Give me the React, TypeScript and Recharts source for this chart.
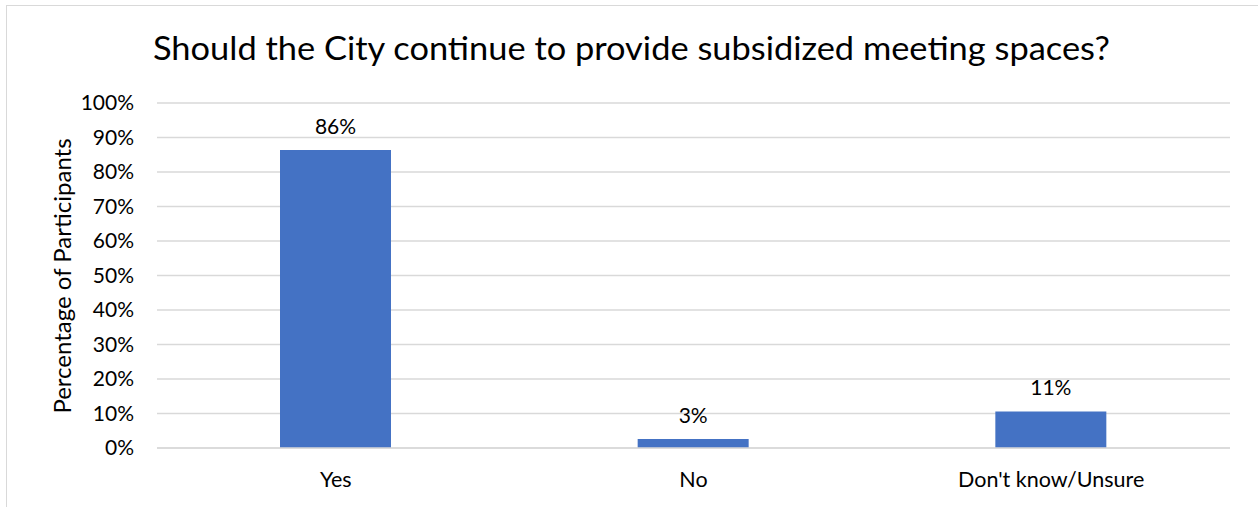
import React from "react";
import { BarChart, Bar, XAxis, YAxis, CartesianGrid, LabelList } from "recharts";

const categories = ["Yes", "No", "Don't know/Unsure"];
const values = [86.4, 2.6, 10.6];
const valueLabels = ["86%", "3%", "11%"];
const yTicks = [0, 10, 20, 30, 40, 50, 60, 70, 80, 90, 100];
const title = "Should the City continue to provide subsidized meeting spaces?";
const yAxisTitle = "Percentage of Participants";

const data = categories.map((c, i) => ({ name: c, value: values[i], label: valueLabels[i] }));

const FONT = "Lato, 'Open Sans', sans-serif";

export default function App() {
  return (
    <div style={{ position: "absolute", left: 0, top: 0, width: 1258, height: 507, background: "#fff", fontFamily: FONT }}>
      <svg width={1258} height={507} style={{ position: "absolute", left: 0, top: 0 }}>
        <line x1={6.5} y1={5} x2={6.5} y2={507} stroke="#d9d9d9" strokeWidth={1} />
        <line x1={6} y1={5.5} x2={1258} y2={5.5} stroke="#d9d9d9" strokeWidth={1} />
        <text x={631.5} y={59.5} textAnchor="middle" fontSize={32} fill="#000" fontFamily={FONT}
          textLength={957} lengthAdjust="spacingAndGlyphs">{title}</text>
        <text x={0} y={0} transform="translate(71,276) rotate(-90)" textAnchor="middle" fontSize={24} fill="#000" fontFamily={FONT}>{yAxisTitle}</text>
      </svg>
      <div style={{ position: "absolute", left: 0, top: 0 }}>
        <BarChart width={1258} height={507} data={data} margin={{ top: 103, right: 28, bottom: 0, left: 0 }}>
          <CartesianGrid vertical={false} stroke="#d9d9d9" strokeWidth={1.3} />
          <XAxis dataKey="name" height={59} axisLine={{ stroke: "#d9d9d9", strokeWidth: 1.3 }} tickLine={false} tickSize={0} tickMargin={24}
            tick={{ fill: "#000", fontSize: 21.5, fontFamily: FONT }} interval={0} />
          <YAxis width={157} domain={[0, 100]} ticks={yTicks} axisLine={false} tickLine={false} tickSize={0} tickMargin={23}
            tickFormatter={(v: number) => `${v}%`} tick={{ fill: "#000", fontSize: 21, fontFamily: FONT }} interval={0} />
          <Bar dataKey="value" fill="#4472C4" barSize={111} isAnimationActive={false}>
            <LabelList dataKey="label" position="top" offset={16} fill="#000" fontSize={21} fontFamily={FONT} />
          </Bar>
        </BarChart>
      </div>
    </div>
  );
}
